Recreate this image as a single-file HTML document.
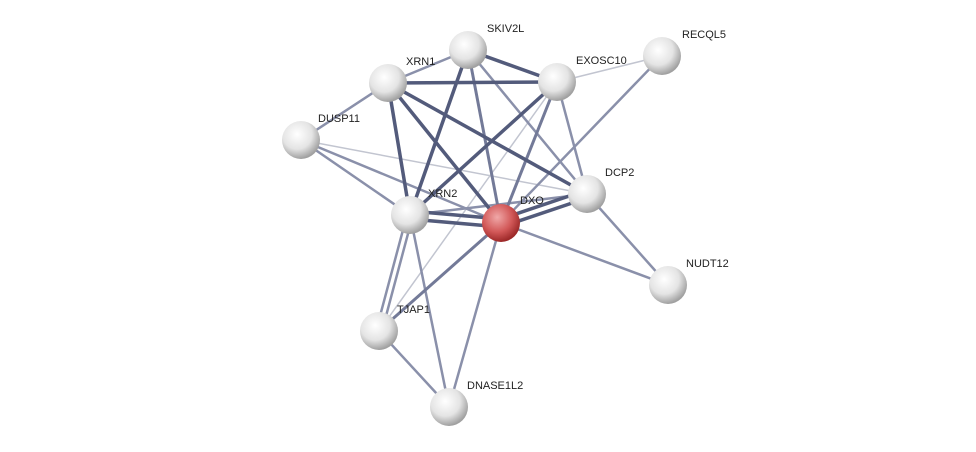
<!DOCTYPE html>
<html><head><meta charset="utf-8"><style>
html,body{margin:0;padding:0;background:#fff;}
svg{display:block}
text{font-family:"Liberation Sans",sans-serif;font-size:11px;fill:#222;}
</style></head><body>
<svg width="976" height="452" viewBox="0 0 976 452" xmlns="http://www.w3.org/2000/svg">
<defs>
<radialGradient id="g" cx="40%" cy="35%" r="65%">
<stop offset="0" stop-color="#ffffff"/><stop offset="0.6" stop-color="#e4e4e4"/><stop offset="1" stop-color="#a0a0a0"/>
</radialGradient>
<radialGradient id="r" cx="40%" cy="35%" r="65%">
<stop offset="0" stop-color="#f0a8a8"/><stop offset="0.6" stop-color="#d25858"/><stop offset="1" stop-color="#9c2828"/>
</radialGradient>
</defs>
<g stroke-linecap="round">
<g stroke="#c2c5d0" stroke-width="1.5">
<line x1="557" y1="82" x2="662" y2="56"/>
<line x1="557" y1="82" x2="379" y2="331"/>
<line x1="301" y1="140" x2="587" y2="194"/>
</g>
<g stroke="#8a90aa" stroke-width="2.5">
<line x1="662" y1="56" x2="501" y2="223"/>
<line x1="301" y1="140" x2="410" y2="215"/>
<line x1="301" y1="140" x2="501" y2="223"/>
<line x1="301" y1="140" x2="388" y2="83"/>
<line x1="468" y1="50" x2="388" y2="83"/>
<line x1="587" y1="194" x2="668" y2="285"/>
<line x1="501" y1="223" x2="668" y2="285"/>
<line x1="407" y1="215" x2="376" y2="331"/>
<line x1="413" y1="215" x2="382" y2="331"/>
<line x1="410" y1="215" x2="449" y2="407"/>
<line x1="379" y1="331" x2="449" y2="407"/>
<line x1="501" y1="223" x2="449" y2="407"/>
<line x1="468" y1="50" x2="587" y2="194"/>
<line x1="557" y1="82" x2="587" y2="194"/>
<line x1="410" y1="215" x2="587" y2="194"/>
</g>
<g stroke="#737a98" stroke-width="3">
<line x1="501" y1="223" x2="379" y2="331"/>
<line x1="557" y1="82" x2="501" y2="223"/>
<line x1="468" y1="50" x2="501" y2="223"/>
</g>
<g stroke="#535b7b" stroke-width="3.5">
<line x1="468" y1="50" x2="557" y2="82"/>
<line x1="468" y1="50" x2="410" y2="215"/>
<line x1="388" y1="83" x2="557" y2="82"/>
<line x1="388" y1="83" x2="501" y2="223"/>
<line x1="388" y1="83" x2="410" y2="215"/>
<line x1="388" y1="83" x2="587" y2="194"/>
<line x1="557" y1="82" x2="410" y2="215"/>
<line x1="410" y1="211" x2="501" y2="219"/>
<line x1="410" y1="219" x2="501" y2="227"/>
<line x1="501" y1="219" x2="587" y2="190"/>
<line x1="501" y1="227" x2="587" y2="198"/>
</g>
</g>
<g>
<circle cx="468" cy="50" r="19" fill="url(#g)"/>
<circle cx="388" cy="83" r="19" fill="url(#g)"/>
<circle cx="557" cy="82" r="19" fill="url(#g)"/>
<circle cx="662" cy="56" r="19" fill="url(#g)"/>
<circle cx="301" cy="140" r="19" fill="url(#g)"/>
<circle cx="587" cy="194" r="19" fill="url(#g)"/>
<circle cx="410" cy="215" r="19" fill="url(#g)"/>
<circle cx="501" cy="223" r="19" fill="url(#r)"/>
<circle cx="668" cy="285" r="19" fill="url(#g)"/>
<circle cx="379" cy="331" r="19" fill="url(#g)"/>
<circle cx="449" cy="407" r="19" fill="url(#g)"/>
</g>
<text x="487" y="32">SKIV2L</text>
<text x="406" y="65">XRN1</text>
<text x="576" y="64">EXOSC10</text>
<text x="682" y="38">RECQL5</text>
<text x="318" y="122">DUSP11</text>
<text x="605" y="176">DCP2</text>
<text x="428" y="197">XRN2</text>
<text x="520" y="204">DXO</text>
<text x="686" y="267">NUDT12</text>
<text x="397" y="313">TJAP1</text>
<text x="467" y="389">DNASE1L2</text>
</svg>
</body></html>
